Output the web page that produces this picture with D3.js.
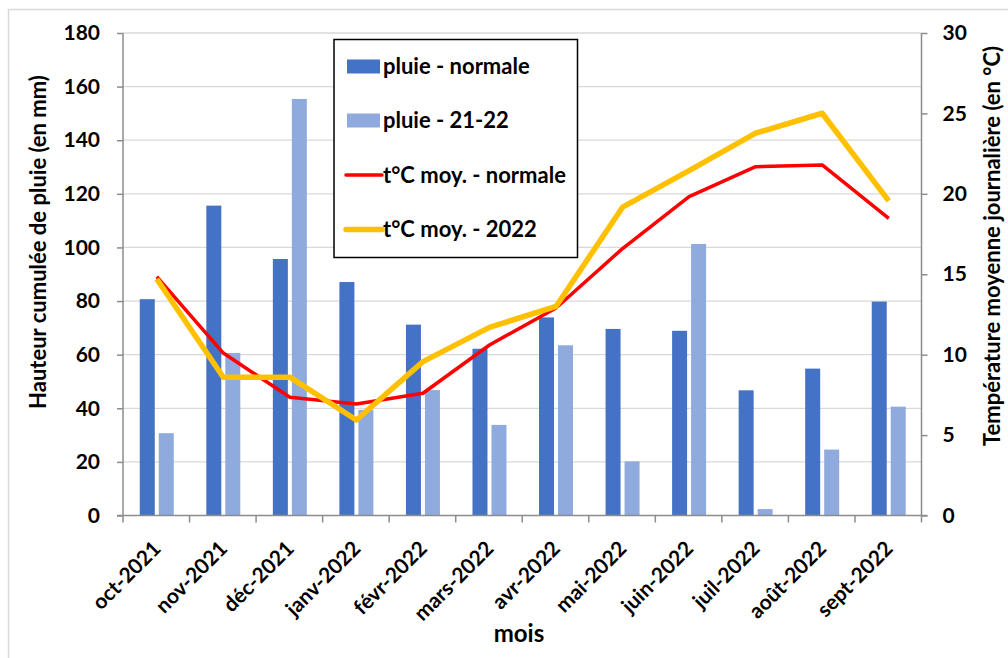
<!DOCTYPE html>
<html><head><meta charset="utf-8">
<script src="https://cdn.jsdelivr.net/npm/d3@7"></script>
<style>body{margin:0;background:#fff}svg{display:block}text{font-family:Lato,"Open Sans",sans-serif;font-weight:bold;fill:#000}</style>
</head><body><svg id="c" width="1008" height="658"></svg>
<script>
const months = ["oct-2021","nov-2021","déc-2021","janv-2022","févr-2022","mars-2022","avr-2022","mai-2022","juin-2022","juil-2022","août-2022","sept-2022"];
const rainNormal = [80.7,115.6,95.7,87.1,71.2,62.2,73.9,69.6,68.9,46.7,54.8,79.8];
const rain2122 = [30.7,60.6,155.4,39.4,46.8,33.8,63.5,20.2,101.3,2.4,24.6,40.6];
const tempNormal = [14.85,10.1,7.35,6.93,7.6,10.6,12.9,16.6,19.83,21.69,21.8,18.48];
const temp2022 = [14.7,8.6,8.6,5.94,9.57,11.7,13.0,19.17,21.44,23.77,25.01,19.56];
const leftTicks = [0,20,40,60,80,100,120,140,160,180];
const rightTicks = [0,5,10,15,20,25,30];
const legendLabels = ["pluie - normale","pluie - 21-22","t°C moy. - normale","t°C moy. - 2022"];
const colors = {dark:"#4472C4", light:"#8FAADC", red:"#FF0000", yellow:"#FFC000"};

const svg = d3.select("#c");
const L=123, R=921.5, T=33, B=515.5;
svg.append("path").attr("d","M8.5,658V9.5H1008").attr("fill","none").attr("stroke","#d9d9d9").attr("stroke-width",1.5);

const x = d3.scaleBand().domain(months).range([L,R]);
const yL = d3.scaleLinear().domain([0,180]).range([B,T]);
const yR = d3.scaleLinear().domain([0,30]).range([B,T]);

// gridlines
svg.append("g").selectAll("line").data(leftTicks.slice(1)).join("line")
  .attr("x1",L).attr("x2",R).attr("y1",d=>yL(d)).attr("y2",d=>yL(d))
  .attr("stroke","#d9d9d9").attr("stroke-width",1.3);

// bars
const bw = 15, gap = 4;
const cx = d => x(d)+x.bandwidth()/2 + 0.5;
svg.append("g").selectAll("rect").data(months).join("rect")
  .attr("x",d=>cx(d)-gap/2-bw).attr("width",bw)
  .attr("y",(d,i)=>yL(rainNormal[i])).attr("height",(d,i)=>B-yL(rainNormal[i]))
  .attr("fill",colors.dark);
svg.append("g").selectAll("rect").data(months).join("rect")
  .attr("x",d=>cx(d)+gap/2).attr("width",bw)
  .attr("y",(d,i)=>yL(rain2122[i])).attr("height",(d,i)=>B-yL(rain2122[i]))
  .attr("fill",colors.light);

// axes
const axL = svg.append("g").attr("transform",`translate(${L},0)`)
  .call(d3.axisLeft(yL).tickValues(leftTicks).tickSize(6).tickPadding(17));
const axR = svg.append("g").attr("transform",`translate(${R},0)`)
  .call(d3.axisRight(yR).tickValues(rightTicks).tickSize(6).tickPadding(15));
[axL,axR].forEach(a=>{a.selectAll("path,line").attr("stroke","#8c8c8c").attr("stroke-width",1.5);a.selectAll("text").style("font-size","21px").style("font-family","Lato,sans-serif").style("font-weight","bold").attr("fill","#000");});
axL.select("path").attr("d",`M0,${T}V${B}`);
axR.select("path").attr("d",`M0,${T}V${B}`);
// bottom ticks at band boundaries
svg.append("g").selectAll("line").data(d3.range(months.length+1)).join("line")
  .attr("x1",i=>L+i*x.bandwidth()).attr("x2",i=>L+i*x.bandwidth())
  .attr("y1",B).attr("y2",B+7).attr("stroke","#8c8c8c").attr("stroke-width",1.5);
svg.append("line").attr("x1",L-6).attr("x2",R+6).attr("y1",B).attr("y2",B).attr("stroke","#8c8c8c").attr("stroke-width",1.5);

// x labels
svg.append("g").selectAll("text").data(months).join("text")
  .attr("transform",d=>`translate(${cx(d)-5},${B+24}) rotate(-45)`)
  .attr("text-anchor","end").attr("dy","0.7em").style("font-size","21px").text(d=>d);

// lines
const line = arr => d3.line().x((v,i)=>cx(months[i])).y(v=>yR(v))(arr);
svg.append("path").attr("d",line(tempNormal)).attr("fill","none").attr("stroke",colors.red).attr("stroke-width",3.5).attr("stroke-linejoin","round");
svg.append("path").attr("d",line(temp2022)).attr("fill","none").attr("stroke",colors.yellow).attr("stroke-width",5.5).attr("stroke-linejoin","round");

// titles
svg.append("text").attr("transform",`translate(46,242) rotate(-90)`).attr("text-anchor","middle").style("font-size","22px").text("Hauteur cumulée de pluie (en mm)");
svg.append("text").attr("transform",`translate(1000,246) rotate(-90)`).attr("text-anchor","middle").style("font-size","22px").text("Température moyenne journalière (en °C)");
svg.append("text").attr("x",519).attr("y",642).attr("text-anchor","middle").style("font-size","24px").text("mois");

// legend
const lg = svg.append("g");
lg.append("rect").attr("x",334).attr("y",39.5).attr("width",243.5).attr("height",218).attr("fill","#fff").attr("stroke","#000").attr("stroke-width",1.5);
const rows = [66.5,120.5,175,229.5];
legendLabels.forEach((t,i)=>{
  const y = rows[i];
  if(i<2) lg.append("rect").attr("x",347).attr("y",y-7).attr("width",33).attr("height",14).attr("fill",i==0?colors.dark:colors.light);
  else lg.append("line").attr("x1",346).attr("x2",382).attr("y1",y).attr("y2",y).attr("stroke",i==2?colors.red:colors.yellow).attr("stroke-width",i==2?3.5:5.5).attr("stroke-linecap","round");
  lg.append("text").attr("x",383).attr("y",y).attr("dy","0.35em").style("font-size","22px").text(t);
});
</script></body></html>
